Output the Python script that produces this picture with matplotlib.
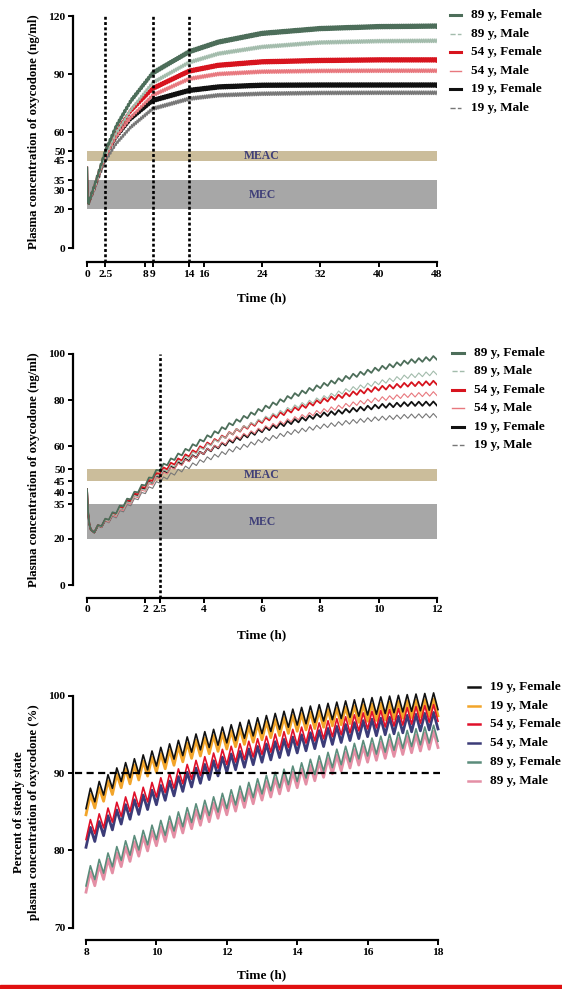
import numpy as np
import matplotlib
matplotlib.use("Agg")
import matplotlib.pyplot as plt
from matplotlib.lines import Line2D
from matplotlib.patches import Rectangle

plt.rcParams["font.family"] = ["Liberation Serif", "DejaVu Serif"]
plt.rcParams["font.weight"] = "bold"

# ---------------- data ----------------
labels_conc = ["89 y, Female", "89 y, Male", "54 y, Female",
               "54 y, Male", "19 y, Female", "19 y, Male"]
colors_conc = ["#4d6e5a", "#a3bcac", "#d7141e", "#e8787e", "#111111", "#777777"]

# initial drop after the loading dose (same for all groups)
drop_t = [0.0, 0.04, 0.08, 0.13, 0.25]
drop_v = [41.5, 31.0, 26.5, 24.0, 22.8]

# panel A: 0-48 h, mid value of the zig-zag
t_a = [0.25, 1, 2.5, 4, 6, 9, 14, 18, 24, 32, 40, 48]
a_89f = [23.7, 32, 50, 63, 76, 90.5, 101.5, 106.5, 111, 113.5, 114.5, 114.8]
a_89m = [23.7, 31, 48, 59.5, 71.5, 85.5, 96, 100.5, 104, 106.3, 107, 107.2]
a_54f = [23.7, 31.5, 49, 60, 71, 82.5, 91.5, 94.5, 96.3, 97, 97.3, 97.3]
a_54m = [23.7, 30.5, 47, 57.5, 67.5, 79, 87.5, 90, 91.2, 91.6, 91.7, 91.7]
a_19f = [23.7, 31, 47.5, 57.5, 67, 76.3, 81.5, 83.3, 84.2, 84.3, 84.3, 84.3]
a_19m = [23.7, 30, 45, 54, 62.5, 72, 77.2, 79, 79.8, 80.2, 80.3, 80.3]

# panel B: 0-12 h
t_b = [0.25, 1, 2, 2.5, 3, 4, 5, 6, 7, 8, 9, 10, 11, 12]
b_89f = [23.7, 32, 44, 50.5, 55, 63, 70, 76, 81.5, 86, 90, 93.5, 96.5, 98.3]
b_89m = [23.7, 31, 42, 48, 52, 59.5, 66, 71.5, 76.5, 80.5, 84.5, 87.5, 90.2, 91.8]
b_54f = [23.7, 31.5, 43, 49, 53, 60, 66, 71, 75.5, 79.5, 82.5, 85, 86.7, 87.5]
b_54m = [23.7, 30.5, 41.5, 47, 51, 57.5, 63, 67.5, 71.5, 75, 78, 80.3, 82, 82.8]
b_19f = [23.7, 31, 42.5, 47.5, 51.5, 57.5, 62.5, 67, 70.5, 73.5, 75.5, 77.3, 78.3, 78.5]
b_19m = [23.7, 30, 40.5, 45, 48.5, 54, 58.5, 62.5, 66, 68.5, 70.5, 72, 73, 73.3]

# panel C: percent of steady state, 8-18 h
labels_pct = ["19 y, Female", "19 y, Male", "54 y, Female",
              "54 y, Male", "89 y, Female", "89 y, Male"]
colors_pct = ["#111111", "#f2a52a", "#e0102a", "#3c3c78", "#5b8c7b", "#e48fa5"]
t_c = [8, 9, 10, 11, 12, 13, 14, 15, 16, 17, 18]
c_19f = [86.5, 90, 92, 93.8, 95, 96.2, 97.3, 98, 98.6, 99, 99.3]
c_19m = [85.7, 89.2, 91.2, 93, 94.2, 95.4, 96.5, 97.2, 97.8, 98.2, 98.5]
c_54f = [82.5, 85.5, 88, 90.3, 92.2, 93.5, 94.7, 95.8, 96.8, 97.3, 97.8]
c_54m = [81.5, 84.5, 87, 89.3, 91.2, 92.5, 93.7, 94.8, 95.8, 96.3, 96.8]
c_89f = [76.5, 79.8, 82.5, 84.7, 86.5, 88.4, 90, 91.8, 93.3, 94.3, 95.2]
c_89m = [75.7, 79, 81.7, 83.9, 85.7, 87.6, 89.2, 91, 92.5, 93.5, 94.4]

dose_step = 0.25   # one bolus every 15 min
amp_conc = 1.8
amp_pct = 2.2

W, H = 562, 989
fig = plt.figure(figsize=(W / 100, H / 100), dpi=100)
fig.patch.set_facecolor("white")


def px_axes(left, right, top, bottom):
    return fig.add_axes([left / W, 1 - bottom / H, (right - left) / W, (bottom - top) / H])


def zigzag(times, mids, amp, t0, t1):
    # troughs at every dose, peaks half way between
    tt = np.arange(t0, t1 + 1e-9, dose_step / 2)
    base = np.interp(tt, times, mids)
    sign = np.where(np.arange(len(tt)) % 2 == 0, -1.0, 1.0)
    return tt, base + sign * amp / 2


def prism_axes(ax, xlim, ylim, xticks, xlabels, yticks, out_left, out_bottom):
    ax.set_xlim(*xlim)
    ax.set_ylim(*ylim)
    for s in ["top", "right"]:
        ax.spines[s].set_visible(False)
    ax.spines["left"].set_position(("outward", out_left * 0.72))
    ax.spines["bottom"].set_position(("outward", out_bottom * 0.72))
    ax.spines["left"].set_linewidth(1.6)
    ax.spines["bottom"].set_linewidth(1.6)
    ax.spines["left"].set_bounds(ylim[0], yticks[-1])
    ax.spines["bottom"].set_bounds(*xlim)
    ax.set_xticks(xticks)
    ax.set_xticklabels(xlabels)
    ax.set_yticks(yticks)
    ax.tick_params(axis="both", length=3.5, width=1.4, labelsize=8.2, pad=2)
    ax.patch.set_alpha(0)
    for lab in ax.get_xticklabels() + ax.get_yticklabels():
        lab.set_fontweight("bold")


def legend_block(x0, y0, dy, labels, colors, widths, styles, hlen):
    for i, (lab, col, lw, ls) in enumerate(zip(labels, colors, widths, styles)):
        y = 1 - (y0 + i * dy) / H
        fig.add_artist(Line2D([x0 / W, (x0 + hlen) / W], [y, y], color=col,
                              lw=lw, ls=ls, transform=fig.transFigure))
        fig.text((x0 + hlen + 10) / W, y, lab, fontsize=9.5, fontweight="bold",
                 va="center", ha="left")


def conc_panel(ax, times, series, tmax, amp, widths):
    ax.axhspan(20, 35, color="#a7a7a7", lw=0, zorder=0)
    ax.axhspan(45, 50, color="#cbbd9b", lw=0, zorder=0)
    order = [5, 4, 3, 2, 1, 0]
    for i in order:
        tt, yy = zigzag(times, series[i], amp, times[0], tmax)
        ax.plot(drop_t + list(tt), drop_v + list(yy), color=colors_conc[i],
                lw=widths[i], zorder=3)


# ---------------- panel A ----------------
ax1 = px_axes(87, 437, 16, 248)
conc_panel(ax1, t_a, [a_89f, a_89m, a_54f, a_54m, a_19f, a_19m], 48, amp_conc,
           [1.6, 1.0, 1.6, 1.0, 1.6, 1.0])
prism_axes(ax1, (0, 48), (0, 120),
           [0, 2.5, 8, 9, 14, 16, 24, 32, 40, 48],
           ["0", "2.5", "8", "9", "14", "16", "24", "32", "40", "48"],
           [0, 20, 30, 35, 45, 50, 60, 90, 120], 14, 14)
for xv in [2.5, 9, 14]:
    ax1.axvline(xv, ymin=-14 / 232, ymax=1.0, color="black", lw=1.9,
                ls=(0, (1.1, 0.9)), clip_on=False, zorder=5)
ax1.text(24, 47.5, "MEAC", ha="center", va="center", color="#3f3f78",
         fontsize=8.5, fontweight="bold", zorder=6)
ax1.text(24, 27.5, "MEC", ha="center", va="center", color="#3f3f78",
         fontsize=8.5, fontweight="bold", zorder=6)
ax1.set_xlabel("Time (h)", fontsize=9.5, fontweight="bold", labelpad=10)
ax1.set_ylabel("Plasma concentration of oxycodone (ng/ml)", fontsize=9.2,
               fontweight="bold", labelpad=6)

legend_block(450, 15, 18.6, labels_conc, colors_conc,
             [2.2, 1.0, 2.2, 1.0, 2.2, 1.0], ["-", "--", "-", "-", "-", "--"], 11)

# ---------------- panel B ----------------
ax2 = px_axes(87, 437, 353.7, 585.3)
conc_panel(ax2, t_b, [b_89f, b_89m, b_54f, b_54m, b_19f, b_19m], 12, amp_conc,
           [1.3, 0.8, 1.3, 0.8, 1.3, 0.8])
prism_axes(ax2, (0, 12), (0, 100),
           [0, 2, 2.5, 4, 6, 8, 10, 12],
           ["0", "2", "2.5", "4", "6", "8", "10", "12"],
           [0, 20, 35, 40, 45, 50, 60, 80, 100], 14, 12.4)
ax2.axvline(2.5, ymin=-12.4 / 231.6, ymax=1.0, color="black", lw=1.9,
            ls=(0, (1.1, 0.9)), clip_on=False, zorder=5)
ax2.text(6, 47.5, "MEAC", ha="center", va="center", color="#3f3f78",
         fontsize=8.5, fontweight="bold", zorder=6)
ax2.text(6, 27.5, "MEC", ha="center", va="center", color="#3f3f78",
         fontsize=8.5, fontweight="bold", zorder=6)
ax2.set_xlabel("Time (h)", fontsize=9.5, fontweight="bold", labelpad=11)
ax2.set_ylabel("Plasma concentration of oxycodone (ng/ml)", fontsize=9.2,
               fontweight="bold", labelpad=6)

legend_block(452, 352.7, 18.5, labels_conc, colors_conc,
             [2.2, 1.0, 2.2, 1.0, 2.2, 1.0], ["-", "--", "-", "-", "-", "--"], 12)

# ---------------- panel C ----------------
ax3 = px_axes(86, 438, 695.7, 927.7)
pct_series = [c_19f, c_19m, c_54f, c_54m, c_89f, c_89m]
pct_widths = [1.2, 2.0, 1.2, 2.0, 1.2, 2.0]
for i in [1, 0, 3, 2, 5, 4]:
    tt, yy = zigzag(t_c, pct_series[i], amp_pct, 8, 18)
    ax3.plot(tt, yy, color=colors_pct[i], lw=pct_widths[i], zorder=3, clip_on=False)
prism_axes(ax3, (8, 18), (70, 100),
           [8, 10, 12, 14, 16, 18],
           ["8", "10", "12", "14", "16", "18"],
           [70, 80, 90, 100], 13, 12.3)
ax3.axhline(90, xmin=-11 / 352, xmax=1.005, color="black", lw=1.6,
            ls=(0, (3.2, 2.0)), clip_on=False, zorder=5)
ax3.set_xlabel("Time (h)", fontsize=9.5, fontweight="bold", labelpad=9)
ax3.set_ylabel("Percent of steady state\nplasma concentration of oxycodone (%)",
               fontsize=9.2, fontweight="bold", labelpad=6, linespacing=1.3)

legend_block(468, 686.7, 18.8, labels_pct, colors_pct,
             [1.8] * 6, ["-"] * 6, 12)

# red rule along the bottom edge
fig.add_artist(Rectangle((0, 0), 1, 4.5 / H, transform=fig.transFigure,
                         color="#e01010", zorder=10))

fig.savefig("out.png", dpi=100, facecolor="white")
